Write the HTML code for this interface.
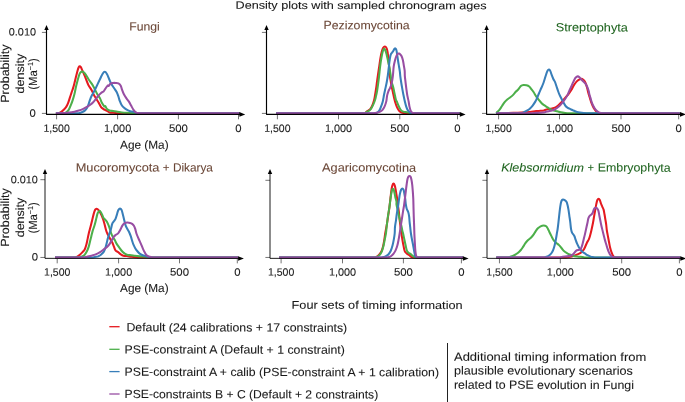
<!DOCTYPE html>
<html lang="en">
<head>
<meta charset="utf-8">
<title>Density plots with sampled chronogram ages</title>
<style>
html,body{margin:0;padding:0;background:#ffffff;}
body{width:685px;height:402px;overflow:hidden;}
svg{display:block;}
svg text{font-family:"Liberation Sans", Arial, Helvetica, sans-serif;text-rendering:geometricPrecision;stroke-width:0.08px;}
</style>
</head>
<body>
<svg width="685" height="402" viewBox="0 0 685 402">
<rect width="685" height="402" fill="#ffffff"/>
<line x1="41.9" y1="32.4" x2="46.5" y2="32.4" stroke="#000000" stroke-width="0.55"/>
<line x1="41.9" y1="113.4" x2="46.5" y2="113.4" stroke="#000000" stroke-width="0.55"/>
<line x1="56.6" y1="114.3" x2="56.6" y2="119.3" stroke="#000000" stroke-width="0.55"/>
<text x="56.6" y="131.9" transform="rotate(0.1 56.6 131.9)" font-size="10.6" fill="#181818" stroke="#181818" text-anchor="middle" textLength="26.3" lengthAdjust="spacingAndGlyphs">1,500</text>
<line x1="117.6" y1="114.3" x2="117.6" y2="119.3" stroke="#000000" stroke-width="0.55"/>
<text x="117.6" y="131.9" transform="rotate(0.1 117.6 131.9)" font-size="10.6" fill="#181818" stroke="#181818" text-anchor="middle" textLength="27.2" lengthAdjust="spacingAndGlyphs">1,000</text>
<line x1="178.4" y1="114.3" x2="178.4" y2="119.3" stroke="#000000" stroke-width="0.55"/>
<text x="178.4" y="131.9" transform="rotate(0.1 178.4 131.9)" font-size="10.6" fill="#181818" stroke="#181818" text-anchor="middle" textLength="19.0" lengthAdjust="spacingAndGlyphs">500</text>
<line x1="238.5" y1="114.3" x2="238.5" y2="119.3" stroke="#000000" stroke-width="0.55"/>
<text x="238.5" y="131.9" transform="rotate(0.1 238.5 131.9)" font-size="10.6" fill="#181818" stroke="#181818" text-anchor="middle" textLength="6.3" lengthAdjust="spacingAndGlyphs">0</text>
<path d="M55.90,113.15C56.85,113.15 57.84,113.15 58.76,113.15C59.73,112.90 60.57,112.29 61.39,111.72C62.33,111.07 63.21,110.34 64.01,109.53C64.82,108.72 65.58,107.86 66.20,106.90C66.91,105.80 67.47,104.60 67.96,103.39C68.65,101.68 69.13,99.89 69.71,98.14C70.29,96.39 70.88,94.63 71.46,92.88C72.04,91.13 72.67,89.40 73.21,87.63C73.70,86.02 74.11,84.40 74.53,82.77C75.57,78.69 76.49,74.58 77.59,70.51C77.90,69.38 78.19,68.22 78.73,67.18C78.94,66.78 79.33,66.31 79.78,66.31C80.23,66.31 80.58,66.80 80.83,67.18C81.33,67.94 81.60,68.81 81.97,69.64C83.01,71.97 84.06,74.29 85.04,76.64C86.25,79.54 87.18,82.57 88.54,85.40C89.23,86.83 90.38,88.00 91.17,89.38C92.14,91.08 92.86,92.92 93.80,94.64C94.61,96.13 95.55,97.55 96.42,99.01C97.30,100.47 98.19,101.92 99.05,103.39C99.39,103.97 99.66,104.58 100.00,105.15C100.53,106.04 100.95,107.03 101.68,107.77C102.42,108.52 103.40,109.00 104.31,109.53C105.15,110.02 106.07,110.37 106.93,110.84C107.85,111.34 108.65,112.10 109.64,112.42C110.76,112.78 111.97,112.74 113.14,112.85C114.60,112.98 116.06,113.09 117.52,113.15C118.35,113.15 119.19,113.15 120.02,113.15C159.88,113.15 199.74,113.15 239.60,113.15" fill="none" stroke="#e5191f" stroke-width="2.05" stroke-linejoin="round" stroke-linecap="butt"/>
<path d="M55.90,113.15C58.06,113.15 60.23,113.15 62.39,113.15C63.22,113.15 64.11,113.15 64.89,113.15C65.90,112.78 66.77,112.05 67.52,111.28C68.25,110.53 68.77,109.58 69.27,108.65C69.95,107.38 70.49,106.04 71.02,104.71C71.65,103.12 72.25,101.52 72.77,99.89C73.42,97.87 74.03,95.83 74.53,93.76C75.20,90.99 75.59,88.16 76.28,85.40C77.20,81.72 78.14,78.05 79.34,74.45C79.61,73.64 80.06,72.86 80.66,72.26C81.07,71.85 81.66,71.56 82.23,71.56C82.78,71.56 83.27,71.94 83.72,72.26C84.23,72.62 84.69,73.07 85.04,73.58C86.30,75.41 87.31,77.42 88.54,79.27C89.64,80.92 90.97,82.41 92.04,84.09C93.02,85.63 93.83,87.29 94.67,88.91C95.58,90.66 96.32,92.49 97.30,94.20C98.08,95.57 99.19,96.75 99.93,98.14C100.68,99.53 101.00,101.13 101.75,102.52C102.49,103.91 103.27,105.33 104.38,106.46C104.59,106.68 104.96,105.80 105.18,106.02C106.02,106.86 106.18,108.24 107.01,109.09C107.71,109.81 108.68,110.28 109.64,110.58C110.76,110.93 111.98,110.84 113.14,111.01C114.60,111.22 116.06,111.48 117.52,111.72C118.98,111.95 120.43,112.26 121.90,112.42C123.94,112.64 125.98,112.74 128.03,112.85C130.37,112.98 132.70,113.08 135.04,113.15C135.87,113.15 136.71,113.15 137.54,113.15C171.56,113.15 205.58,113.15 239.60,113.15" fill="none" stroke="#4caf4a" stroke-width="2.05" stroke-linejoin="round" stroke-linecap="butt"/>
<path d="M55.90,113.15C62.74,113.15 69.57,113.15 76.41,113.15C77.24,113.15 78.09,113.15 78.91,113.15C80.12,112.91 81.29,112.48 82.41,111.98C83.34,111.56 84.26,111.07 85.04,110.40C85.75,109.79 86.33,109.02 86.79,108.21C87.50,106.96 88.03,105.61 88.54,104.27C89.20,102.54 89.63,100.74 90.29,99.01C90.80,97.67 91.40,96.35 92.04,95.07C92.57,94.02 93.25,93.05 93.80,92.01C94.42,90.86 94.98,89.68 95.55,88.50C97.03,85.43 98.45,82.34 99.93,79.27C100.78,77.51 101.49,75.66 102.55,74.01C103.11,73.14 103.71,71.82 104.74,71.82C105.77,71.82 106.40,73.12 106.93,74.01C107.91,75.65 108.43,77.52 109.20,79.27C109.91,80.88 110.54,82.54 111.39,84.09C112.15,85.47 113.14,86.72 114.01,88.03C114.89,89.34 115.91,90.57 116.64,91.97C117.38,93.37 117.87,94.89 118.39,96.39C118.89,97.83 119.18,99.34 119.71,100.77C120.21,102.12 120.70,103.49 121.46,104.71C122.17,105.85 123.10,106.86 124.09,107.77C125.01,108.62 126.06,109.34 127.15,109.96C128.12,110.51 129.15,110.96 130.22,111.28C131.21,111.58 132.27,111.58 133.28,111.80C133.88,111.93 134.46,112.13 135.04,112.33C135.78,112.58 136.46,113.02 137.23,113.15C138.05,113.15 138.90,113.15 139.73,113.15C173.02,113.15 206.31,113.15 239.60,113.15" fill="none" stroke="#387eb9" stroke-width="2.05" stroke-linejoin="round" stroke-linecap="butt"/>
<path d="M55.90,113.15C57.48,113.15 59.06,113.15 60.64,113.15C61.47,113.14 62.31,113.08 63.14,113.03C65.18,112.90 67.23,112.82 69.27,112.59C71.04,112.39 72.79,112.08 74.53,111.72C76.01,111.41 77.48,111.05 78.91,110.58C80.40,110.09 81.86,109.48 83.28,108.82C84.49,108.26 85.64,107.57 86.79,106.90C87.98,106.20 89.17,105.51 90.29,104.71C91.22,104.05 92.11,103.33 92.92,102.52C93.87,101.57 94.71,100.50 95.55,99.45C96.46,98.31 97.23,97.06 98.18,95.95C98.98,95.01 99.88,94.14 100.80,93.32C101.37,92.81 102.00,92.39 102.63,91.97C102.88,91.80 103.24,91.80 103.43,91.57C104.13,90.75 104.63,89.78 105.26,88.91C106.11,87.73 106.79,86.37 107.88,85.40C108.12,85.19 108.43,86.05 108.69,85.88C109.49,85.35 109.71,84.18 110.51,83.65C111.27,83.15 112.24,83.07 113.14,82.95C114.01,82.83 114.90,82.88 115.77,82.95C116.65,83.02 117.60,82.99 118.39,83.39C119.27,83.84 120.08,84.55 120.58,85.40C121.29,86.61 121.42,88.07 121.90,89.38C122.44,90.86 122.95,92.35 123.65,93.76C124.41,95.28 125.33,96.72 126.28,98.14C127.09,99.35 128.12,100.41 128.91,101.64C129.72,102.90 130.36,104.27 131.09,105.58C131.82,106.90 132.47,108.26 133.28,109.53C133.79,110.32 134.36,111.08 135.04,111.72C135.54,112.20 136.13,112.63 136.79,112.85C137.63,113.12 138.54,113.10 139.42,113.15C140.25,113.15 141.09,113.15 141.92,113.15C174.48,113.15 207.04,113.15 239.60,113.15" fill="none" stroke="#984ea3" stroke-width="2.05" stroke-linejoin="round" stroke-linecap="butt"/>
<path d="M46.5,28.0 V114.3 H240.3" fill="none" stroke="#000000" stroke-width="1.15" stroke-linejoin="round"/>
<path d="M46.5,24.9 l2.2,5.0 h-4.4 z" fill="#000"/>
<path d="M245.2,114.4 l-5.8,-2.3 v4.6 z" fill="#000"/>
<line x1="261.9" y1="32.4" x2="266.5" y2="32.4" stroke="#000000" stroke-width="0.55"/>
<line x1="261.9" y1="113.4" x2="266.5" y2="113.4" stroke="#000000" stroke-width="0.55"/>
<line x1="277.4" y1="114.3" x2="277.4" y2="119.3" stroke="#000000" stroke-width="0.55"/>
<text x="277.4" y="131.9" transform="rotate(0.1 277.4 131.9)" font-size="10.6" fill="#181818" stroke="#181818" text-anchor="middle" textLength="26.3" lengthAdjust="spacingAndGlyphs">1,500</text>
<line x1="338.5" y1="114.3" x2="338.5" y2="119.3" stroke="#000000" stroke-width="0.55"/>
<text x="338.5" y="131.9" transform="rotate(0.1 338.5 131.9)" font-size="10.6" fill="#181818" stroke="#181818" text-anchor="middle" textLength="27.2" lengthAdjust="spacingAndGlyphs">1,000</text>
<line x1="399.8" y1="114.3" x2="399.8" y2="119.3" stroke="#000000" stroke-width="0.55"/>
<text x="399.8" y="131.9" transform="rotate(0.1 399.8 131.9)" font-size="10.6" fill="#181818" stroke="#181818" text-anchor="middle" textLength="19.0" lengthAdjust="spacingAndGlyphs">500</text>
<line x1="457.5" y1="114.3" x2="457.5" y2="119.3" stroke="#000000" stroke-width="0.55"/>
<text x="457.5" y="131.9" transform="rotate(0.1 457.5 131.9)" font-size="10.6" fill="#181818" stroke="#181818" text-anchor="middle" textLength="6.3" lengthAdjust="spacingAndGlyphs">0</text>
<path d="M276.20,113.15C304.89,113.15 333.59,113.15 362.28,113.15C363.11,113.15 363.98,113.15 364.78,113.15C365.47,112.95 365.95,112.32 366.53,111.90C367.12,111.47 367.70,111.02 368.28,110.58C368.87,110.14 369.58,109.84 370.04,109.27C370.91,108.21 371.66,107.02 372.22,105.77C372.98,104.08 373.49,102.29 373.98,100.51C374.36,99.12 374.60,97.70 374.85,96.28C375.27,93.95 375.65,91.61 375.99,89.27C376.38,86.65 376.68,84.02 377.04,81.39C377.32,79.35 377.62,77.30 377.92,75.26C378.35,72.27 378.79,69.27 379.23,66.28C379.66,63.36 380.04,60.43 380.55,57.52C380.91,55.46 381.31,53.41 381.86,51.39C382.19,50.18 382.50,48.93 383.17,47.88C383.56,47.26 384.20,46.48 384.93,46.57C385.75,46.67 386.36,47.56 386.68,48.32C387.32,49.83 387.47,51.52 387.73,53.14C388.05,55.17 388.21,57.23 388.43,59.27C388.65,61.31 388.84,63.36 389.04,65.40C389.22,67.15 389.45,68.90 389.57,70.66C389.68,72.19 389.58,73.73 389.74,75.26C389.93,77.02 390.33,78.76 390.62,80.51C390.91,82.26 391.15,84.02 391.49,85.77C391.88,87.82 392.37,89.86 392.81,91.90C393.25,93.94 393.65,95.99 394.12,98.03C394.38,99.16 394.66,100.28 395.00,101.39C395.54,103.15 396.02,104.94 396.75,106.64C397.34,108.02 398.00,109.41 398.94,110.58C399.64,111.44 400.58,112.11 401.57,112.60C402.37,112.99 403.31,113.05 404.20,113.15C405.03,113.15 405.87,113.15 406.70,113.15C424.37,113.15 442.03,113.15 459.70,113.15" fill="none" stroke="#e5191f" stroke-width="2.05" stroke-linejoin="round" stroke-linecap="butt"/>
<path d="M276.20,113.15C305.05,113.15 333.91,113.15 362.76,113.15C363.59,113.15 364.47,113.15 365.26,113.15C365.83,112.96 366.05,112.21 366.57,111.90C367.24,111.49 368.12,111.47 368.76,111.02C369.61,110.43 370.35,109.67 370.95,108.83C371.82,107.61 372.50,106.25 373.14,104.89C373.81,103.47 374.38,102.00 374.89,100.51C375.26,99.41 375.51,98.28 375.77,97.15C376.24,95.11 376.72,93.08 377.08,91.02C377.54,88.41 377.86,85.77 378.22,83.14C378.53,80.81 378.82,78.47 379.09,76.13C379.47,72.85 379.73,69.56 380.15,66.28C380.52,63.35 380.95,60.43 381.46,57.52C381.82,55.46 382.17,53.39 382.77,51.39C383.05,50.45 383.16,49.07 384.09,48.76C384.78,48.53 385.11,49.84 385.40,50.51C386.00,51.91 386.35,53.41 386.72,54.89C387.23,56.92 387.59,58.98 388.03,61.02C388.47,63.06 388.96,65.10 389.34,67.15C389.84,69.84 390.24,72.55 390.66,75.26C390.97,77.30 391.10,79.37 391.53,81.39C391.97,83.47 392.76,85.46 393.28,87.52C393.79,89.55 394.16,91.61 394.60,93.65C395.04,95.69 395.34,97.77 395.91,99.78C396.08,100.37 396.54,100.83 396.79,101.39C397.42,102.83 397.90,104.33 398.54,105.77C399.07,106.96 399.55,108.20 400.29,109.27C400.88,110.12 401.57,110.97 402.48,111.46C403.40,111.95 404.53,111.87 405.55,112.07C406.72,112.30 407.88,112.56 409.05,112.77C409.92,112.92 410.80,113.08 411.68,113.15C412.51,113.15 413.35,113.15 414.18,113.15C429.35,113.15 444.53,113.15 459.70,113.15" fill="none" stroke="#4caf4a" stroke-width="2.05" stroke-linejoin="round" stroke-linecap="butt"/>
<path d="M276.20,113.15C308.26,113.15 340.33,113.15 372.39,113.15C373.22,113.15 374.06,113.15 374.89,113.15C375.64,113.06 376.43,112.98 377.08,112.60C377.94,112.10 378.72,111.41 379.27,110.58C380.06,109.38 380.51,107.98 381.02,106.64C381.68,104.92 382.32,103.18 382.77,101.39C383.34,99.13 383.63,96.81 384.09,94.53C384.50,92.48 384.96,90.44 385.40,88.39C385.84,86.35 386.34,84.31 386.72,82.26C387.15,79.94 387.53,77.60 387.85,75.26C388.26,72.27 388.55,69.27 388.91,66.28C389.19,63.94 389.42,61.60 389.78,59.27C390.01,57.80 390.19,56.30 390.66,54.89C390.93,54.08 391.50,53.41 391.97,52.70C392.37,52.09 392.88,51.56 393.28,50.95C393.75,50.24 394.03,49.40 394.60,48.76C394.80,48.53 395.23,48.32 395.47,48.50C395.95,48.86 396.19,49.49 396.35,50.07C396.78,51.64 396.97,53.28 397.23,54.89C397.56,56.93 397.79,58.98 398.10,61.02C398.37,62.78 398.69,64.53 398.98,66.28C399.27,68.03 399.62,69.77 399.85,71.53C400.05,73.06 400.10,74.60 400.29,76.13C400.54,78.18 400.85,80.22 401.17,82.26C401.49,84.31 401.86,86.35 402.22,88.39C402.59,90.44 402.95,92.49 403.36,94.53C403.82,96.82 404.31,99.11 404.85,101.39C405.27,103.15 405.68,104.92 406.25,106.64C406.65,107.85 407.07,109.07 407.74,110.15C408.17,110.85 408.88,111.34 409.49,111.90C409.90,112.28 410.27,112.78 410.80,112.95C411.59,113.15 412.46,113.15 413.30,113.15C428.77,113.15 444.23,113.15 459.70,113.15" fill="none" stroke="#387eb9" stroke-width="2.05" stroke-linejoin="round" stroke-linecap="butt"/>
<path d="M276.20,113.15C307.68,113.15 339.16,113.15 370.64,113.15C371.47,113.15 372.31,113.15 373.14,113.15C374.31,113.08 375.49,112.99 376.64,112.77C377.68,112.57 378.74,112.34 379.71,111.90C380.67,111.46 381.63,110.93 382.34,110.15C383.27,109.13 383.96,107.90 384.53,106.64C385.29,104.96 385.86,103.19 386.28,101.39C386.74,99.43 386.73,97.37 387.15,95.40C387.47,93.91 387.92,92.44 388.47,91.02C388.94,89.80 389.72,88.73 390.22,87.52C390.81,86.09 391.36,84.64 391.71,83.14C392.24,80.83 392.57,78.48 392.85,76.13C393.24,72.86 393.27,69.55 393.72,66.28C394.00,64.21 394.51,62.17 395.04,60.15C395.39,58.81 395.81,57.48 396.35,56.20C396.68,55.42 397.06,54.61 397.66,54.01C397.99,53.68 398.52,53.50 398.98,53.58C399.50,53.67 399.92,54.08 400.29,54.45C400.81,54.97 401.30,55.54 401.61,56.20C402.19,57.46 402.60,58.80 402.92,60.15C403.33,61.88 403.51,63.65 403.80,65.40C404.09,67.15 404.50,68.89 404.67,70.66C404.85,72.48 404.71,74.31 404.85,76.13C405.01,78.18 405.31,80.22 405.55,82.26C405.83,84.60 406.11,86.94 406.42,89.27C406.69,91.32 406.93,93.37 407.30,95.40C407.66,97.41 408.22,99.38 408.61,101.39C408.95,103.13 409.11,104.91 409.49,106.64C409.78,107.98 410.08,109.33 410.63,110.58C410.97,111.35 411.43,112.12 412.12,112.60C412.74,113.03 413.56,113.06 414.31,113.15C415.14,113.15 415.98,113.15 416.81,113.15C431.11,113.15 445.40,113.15 459.70,113.15" fill="none" stroke="#984ea3" stroke-width="2.05" stroke-linejoin="round" stroke-linecap="butt"/>
<path d="M266.5,28.0 V114.3 H460.4" fill="none" stroke="#000000" stroke-width="1.15" stroke-linejoin="round"/>
<path d="M266.5,24.9 l2.2,5.0 h-4.4 z" fill="#000"/>
<path d="M465.6,114.4 l-5.8,-2.3 v4.6 z" fill="#000"/>
<line x1="482.0" y1="32.4" x2="486.6" y2="32.4" stroke="#000000" stroke-width="0.55"/>
<line x1="482.0" y1="113.4" x2="486.6" y2="113.4" stroke="#000000" stroke-width="0.55"/>
<line x1="498.6" y1="114.3" x2="498.6" y2="119.3" stroke="#000000" stroke-width="0.55"/>
<text x="498.6" y="131.9" transform="rotate(0.1 498.6 131.9)" font-size="10.6" fill="#181818" stroke="#181818" text-anchor="middle" textLength="26.3" lengthAdjust="spacingAndGlyphs">1,500</text>
<line x1="559.5" y1="114.3" x2="559.5" y2="119.3" stroke="#000000" stroke-width="0.55"/>
<text x="559.5" y="131.9" transform="rotate(0.1 559.5 131.9)" font-size="10.6" fill="#181818" stroke="#181818" text-anchor="middle" textLength="27.2" lengthAdjust="spacingAndGlyphs">1,000</text>
<line x1="621.0" y1="114.3" x2="621.0" y2="119.3" stroke="#000000" stroke-width="0.55"/>
<text x="621.0" y="131.9" transform="rotate(0.1 621.0 131.9)" font-size="10.6" fill="#181818" stroke="#181818" text-anchor="middle" textLength="19.0" lengthAdjust="spacingAndGlyphs">500</text>
<line x1="678.7" y1="114.3" x2="678.7" y2="119.3" stroke="#000000" stroke-width="0.55"/>
<text x="678.7" y="131.9" transform="rotate(0.1 678.7 131.9)" font-size="10.6" fill="#181818" stroke="#181818" text-anchor="middle" textLength="6.3" lengthAdjust="spacingAndGlyphs">0</text>
<path d="M496.30,113.15C499.41,113.15 502.53,113.15 505.64,113.15C506.47,113.14 507.31,113.06 508.14,113.03C512.52,112.87 516.90,112.80 521.28,112.59C524.20,112.45 527.13,112.27 530.04,111.98C532.09,111.77 534.12,111.32 536.17,111.10C537.62,110.94 539.09,110.97 540.55,110.84C541.72,110.74 542.90,110.63 544.05,110.40C544.39,110.33 544.67,110.06 545.00,109.96C546.15,109.62 547.32,109.34 548.50,109.09C549.66,108.84 550.86,108.76 552.01,108.47C553.20,108.17 554.40,107.86 555.51,107.34C556.46,106.89 557.33,106.25 558.14,105.58C559.09,104.79 559.93,103.87 560.77,102.96C561.68,101.97 562.52,100.91 563.39,99.89C564.27,98.87 565.14,97.84 566.02,96.82C566.90,95.80 567.83,94.83 568.65,93.76C569.59,92.54 570.48,91.27 571.28,89.96C572.23,88.40 572.93,86.70 573.91,85.15C574.69,83.92 575.54,82.72 576.53,81.64C577.16,80.95 577.94,80.41 578.72,79.89C579.26,79.53 579.84,79.20 580.47,79.01C581.03,78.84 581.68,78.63 582.23,78.84C582.95,79.11 583.49,79.74 583.98,80.33C584.52,80.98 584.95,81.74 585.29,82.52C585.91,83.94 586.43,85.41 586.87,86.90C587.46,88.92 587.81,91.00 588.36,93.03C588.75,94.45 589.24,95.85 589.67,97.26C590.12,98.72 590.49,100.20 590.99,101.64C591.51,103.12 592.07,104.60 592.74,106.02C593.24,107.09 593.82,108.12 594.49,109.09C595.14,110.03 595.80,111.00 596.68,111.72C597.44,112.34 598.37,112.77 599.31,113.03C600.11,113.15 600.98,113.15 601.81,113.15C627.77,113.15 653.74,113.15 679.70,113.15" fill="none" stroke="#e5191f" stroke-width="2.05" stroke-linejoin="round" stroke-linecap="butt"/>
<path d="M496.30,113.15C496.45,112.96 496.58,112.76 496.75,112.59C497.61,111.70 498.61,110.93 499.38,109.96C500.37,108.73 501.13,107.33 502.01,106.02C502.89,104.71 503.65,103.31 504.64,102.08C505.41,101.11 506.32,100.25 507.26,99.45C508.22,98.64 509.34,98.04 510.33,97.26C511.39,96.43 512.44,95.59 513.39,94.64C514.34,93.69 515.10,92.55 516.02,91.57C516.70,90.84 517.56,90.28 518.21,89.53C519.17,88.43 519.74,86.98 520.84,86.02C521.55,85.40 522.53,85.09 523.47,84.97C524.49,84.84 525.54,85.06 526.53,85.32C527.45,85.56 528.41,85.87 529.16,86.46C530.06,87.16 530.64,88.19 531.35,89.09C532.10,90.05 532.87,90.99 533.54,92.01C534.48,93.43 535.22,94.97 536.17,96.39C536.98,97.60 537.89,98.75 538.80,99.89C539.64,100.94 540.47,102.01 541.42,102.96C542.23,103.77 543.12,104.49 544.05,105.15C545.17,105.95 546.39,106.60 547.55,107.34C548.46,107.92 549.30,108.61 550.26,109.09C551.38,109.64 552.57,110.03 553.76,110.40C554.91,110.76 556.10,110.96 557.26,111.28C558.44,111.60 559.58,112.07 560.77,112.33C562.21,112.65 563.68,112.86 565.15,113.03C565.98,113.13 566.82,113.15 567.65,113.15C605.00,113.15 642.35,113.15 679.70,113.15" fill="none" stroke="#4caf4a" stroke-width="2.05" stroke-linejoin="round" stroke-linecap="butt"/>
<path d="M496.30,113.15C503.79,113.15 511.29,113.15 518.78,113.15C519.61,113.15 520.47,113.15 521.28,113.15C522.51,112.86 523.63,112.24 524.78,111.72C525.67,111.32 526.58,110.92 527.41,110.40C528.34,109.83 529.24,109.21 530.04,108.47C531.00,107.59 531.87,106.61 532.66,105.58C533.62,104.33 534.49,103.00 535.29,101.64C535.95,100.52 536.51,99.33 537.04,98.14C537.68,96.70 538.19,95.21 538.80,93.76C539.65,91.75 540.56,89.77 541.42,87.77C542.17,86.03 542.97,84.31 543.61,82.52C544.43,80.21 545.03,77.83 545.80,75.51C546.34,73.89 546.73,72.19 547.55,70.69C547.85,70.14 548.42,69.45 549.04,69.55C549.72,69.66 550.05,70.52 550.36,71.13C550.91,72.24 551.13,73.48 551.57,74.64C552.12,76.11 552.65,77.59 553.32,79.01C553.82,80.08 554.60,81.00 555.07,82.08C555.63,83.35 555.95,84.71 556.39,86.02C556.97,87.77 557.52,89.54 558.14,91.28C558.54,92.41 558.95,93.54 559.45,94.64C560.12,96.12 560.88,97.57 561.64,99.01C562.34,100.34 563.09,101.65 563.83,102.96C564.41,103.98 564.84,105.11 565.58,106.02C566.17,106.74 566.98,107.27 567.77,107.77C568.60,108.30 569.52,108.65 570.40,109.09C571.28,109.53 572.14,109.99 573.03,110.40C573.90,110.80 574.76,111.21 575.66,111.54C576.52,111.85 577.39,112.14 578.28,112.33C579.44,112.58 580.61,112.73 581.79,112.85C583.25,113.00 584.71,113.09 586.17,113.15C587.00,113.15 587.84,113.15 588.67,113.15C619.01,113.15 649.36,113.15 679.70,113.15" fill="none" stroke="#387eb9" stroke-width="2.05" stroke-linejoin="round" stroke-linecap="butt"/>
<path d="M496.30,113.15C508.17,113.15 520.05,113.15 531.92,113.15C532.75,113.15 533.59,113.08 534.42,113.03C537.34,112.86 540.26,112.74 543.18,112.50C543.80,112.45 544.40,112.29 545.00,112.15C546.17,111.88 547.33,111.57 548.50,111.28C549.67,110.99 550.85,110.73 552.01,110.40C552.90,110.15 553.81,109.94 554.64,109.53C555.58,109.06 556.42,108.40 557.26,107.77C558.17,107.08 559.08,106.39 559.89,105.58C560.84,104.63 561.68,103.57 562.52,102.52C563.43,101.38 564.34,100.23 565.15,99.01C566.09,97.60 567.00,96.15 567.77,94.64C568.32,93.57 568.62,92.39 569.09,91.28C569.79,89.66 570.55,88.07 571.28,86.46C572.01,84.85 572.71,83.23 573.47,81.64C574.03,80.46 574.52,79.24 575.22,78.14C575.55,77.62 576.01,77.16 576.53,76.82C576.92,76.56 577.39,76.34 577.85,76.39C578.34,76.44 578.78,76.77 579.16,77.09C579.82,77.65 580.31,78.38 580.91,79.01C581.62,79.76 582.37,80.47 583.10,81.20C583.83,81.93 584.67,82.56 585.29,83.39C586.00,84.33 586.56,85.38 587.04,86.46C587.74,88.02 588.31,89.64 588.80,91.28C589.04,92.08 589.02,92.95 589.23,93.76C589.61,95.24 590.11,96.68 590.55,98.14C590.99,99.60 591.33,101.09 591.86,102.52C592.36,103.87 592.94,105.19 593.61,106.46C594.25,107.68 594.91,108.91 595.80,109.96C596.54,110.83 597.44,111.57 598.43,112.15C599.23,112.62 600.15,112.85 601.06,113.03C601.88,113.15 602.73,113.15 603.56,113.15C628.94,113.15 654.32,113.15 679.70,113.15" fill="none" stroke="#984ea3" stroke-width="2.05" stroke-linejoin="round" stroke-linecap="butt"/>
<path d="M486.6,28.0 V114.3 H680.4" fill="none" stroke="#000000" stroke-width="1.15" stroke-linejoin="round"/>
<path d="M486.6,24.9 l2.2,5.0 h-4.4 z" fill="#000"/>
<path d="M685.8,114.4 l-5.8,-2.3 v4.6 z" fill="#000"/>
<line x1="40.4" y1="179.7" x2="45.0" y2="179.7" stroke="#000000" stroke-width="0.55"/>
<line x1="40.4" y1="257.45" x2="45.0" y2="257.45" stroke="#000000" stroke-width="0.55"/>
<line x1="57.2" y1="258.35" x2="57.2" y2="263.35" stroke="#000000" stroke-width="0.55"/>
<text x="57.2" y="275.65" transform="rotate(0.1 57.2 275.65)" font-size="10.6" fill="#181818" stroke="#181818" text-anchor="middle" textLength="26.3" lengthAdjust="spacingAndGlyphs">1,500</text>
<line x1="118.6" y1="258.35" x2="118.6" y2="263.35" stroke="#000000" stroke-width="0.55"/>
<text x="118.6" y="275.65" transform="rotate(0.1 118.6 275.65)" font-size="10.6" fill="#181818" stroke="#181818" text-anchor="middle" textLength="27.2" lengthAdjust="spacingAndGlyphs">1,000</text>
<line x1="179.5" y1="258.35" x2="179.5" y2="263.35" stroke="#000000" stroke-width="0.55"/>
<text x="179.5" y="275.65" transform="rotate(0.1 179.5 275.65)" font-size="10.6" fill="#181818" stroke="#181818" text-anchor="middle" textLength="19.0" lengthAdjust="spacingAndGlyphs">500</text>
<line x1="237.3" y1="258.35" x2="237.3" y2="263.35" stroke="#000000" stroke-width="0.55"/>
<text x="237.3" y="275.65" transform="rotate(0.1 237.3 275.65)" font-size="10.6" fill="#181818" stroke="#181818" text-anchor="middle" textLength="6.3" lengthAdjust="spacingAndGlyphs">0</text>
<path d="M55.00,257.45C61.59,257.45 68.18,257.45 74.76,257.45C75.63,257.42 76.49,257.11 77.26,256.71C78.22,256.21 79.07,255.49 79.89,254.78C80.83,253.97 81.68,253.06 82.52,252.15C83.29,251.31 84.20,250.55 84.71,249.53C85.54,247.88 85.98,246.05 86.46,244.27C87.00,242.25 87.33,240.18 87.77,238.14C88.21,236.10 88.60,234.04 89.09,232.01C89.48,230.38 89.98,228.77 90.40,227.15C91.00,224.82 91.57,222.48 92.15,220.15C92.74,217.81 93.23,215.45 93.91,213.14C94.26,211.94 94.58,210.71 95.22,209.64C95.49,209.19 96.01,208.80 96.53,208.76C97.03,208.73 97.47,209.14 97.85,209.46C98.51,210.02 99.13,210.66 99.60,211.39C100.31,212.49 100.82,213.70 101.35,214.89C101.99,216.33 102.58,217.79 103.10,219.27C103.60,220.71 104.02,222.18 104.42,223.65C104.90,225.39 105.24,227.17 105.73,228.91C106.11,230.25 106.51,231.59 107.04,232.88C107.54,234.09 108.18,235.24 108.80,236.39C109.35,237.43 109.97,238.43 110.55,239.45C111.13,240.47 111.80,241.45 112.30,242.52C112.97,243.94 113.46,245.44 114.05,246.90C114.53,248.07 114.73,249.40 115.51,250.40C116.16,251.23 117.30,251.52 118.14,252.15C119.05,252.83 119.82,253.71 120.77,254.34C121.58,254.88 122.45,255.39 123.39,255.66C124.52,255.98 125.73,255.93 126.90,256.09C128.36,256.28 129.82,256.53 131.28,256.71C132.74,256.89 134.20,256.99 135.66,257.15C136.49,257.24 137.32,257.45 138.16,257.45C171.51,257.45 204.85,257.45 238.20,257.45" fill="none" stroke="#e5191f" stroke-width="2.05" stroke-linejoin="round" stroke-linecap="butt"/>
<path d="M55.00,257.45C63.05,257.45 71.10,257.45 79.14,257.45C80.01,257.43 80.84,257.06 81.64,256.71C82.56,256.31 83.57,255.94 84.27,255.22C85.37,254.09 86.16,252.68 86.90,251.28C87.63,249.89 88.17,248.40 88.65,246.90C89.20,245.18 89.52,243.39 89.96,241.64C90.40,239.89 90.84,238.14 91.28,236.39C91.72,234.64 92.08,232.86 92.59,231.13C93.25,228.91 94.14,226.76 94.78,224.53C95.45,222.22 95.93,219.85 96.53,217.52C96.95,215.91 97.14,214.21 97.85,212.70C98.20,211.95 98.78,211.07 99.60,210.95C100.21,210.86 100.57,211.75 100.91,212.26C101.45,213.08 101.82,214.00 102.23,214.89C102.70,215.90 102.94,217.02 103.54,217.96C103.98,218.66 104.74,219.09 105.29,219.71C105.91,220.41 106.58,221.09 107.04,221.90C107.75,223.15 108.28,224.50 108.80,225.84C109.30,227.13 109.70,228.46 110.11,229.78C110.43,230.81 110.61,231.87 110.99,232.88C111.49,234.23 112.07,235.55 112.74,236.82C113.38,238.04 114.26,239.12 114.93,240.33C115.48,241.32 115.80,242.42 116.39,243.39C117.31,244.91 118.39,246.34 119.45,247.77C120.44,249.11 121.39,250.50 122.52,251.72C123.30,252.56 124.18,253.31 125.15,253.91C125.95,254.40 126.85,254.76 127.77,254.96C128.92,255.21 130.12,255.08 131.28,255.22C132.46,255.37 133.61,255.68 134.78,255.83C136.53,256.06 138.28,256.21 140.04,256.36C141.79,256.51 143.54,256.55 145.29,256.71C146.46,256.82 147.63,257.01 148.80,257.15C149.63,257.25 150.46,257.45 151.30,257.45C180.27,257.45 209.23,257.45 238.20,257.45" fill="none" stroke="#4caf4a" stroke-width="2.05" stroke-linejoin="round" stroke-linecap="butt"/>
<path d="M55.00,257.45C67.43,257.45 79.85,257.45 92.28,257.45C93.13,257.44 93.95,257.12 94.78,256.97C95.95,256.76 97.16,256.76 98.28,256.36C99.24,256.02 100.11,255.42 100.91,254.78C101.88,254.01 102.85,253.18 103.54,252.15C104.34,250.95 104.81,249.57 105.29,248.21C105.84,246.64 106.19,245.00 106.61,243.39C107.07,241.64 107.42,239.87 107.92,238.14C108.44,236.37 109.09,234.63 109.67,232.88C110.11,231.56 110.61,230.25 110.99,228.91C111.49,227.17 111.65,225.33 112.30,223.65C112.68,222.67 113.47,221.90 114.05,221.02C114.54,220.29 115.15,219.63 115.51,218.83C116.08,217.57 116.40,216.21 116.82,214.89C117.28,213.44 117.54,211.91 118.14,210.51C118.43,209.84 118.90,209.24 119.45,208.76C119.67,208.56 120.07,208.43 120.33,208.58C120.90,208.92 121.39,209.46 121.64,210.07C122.28,211.61 122.54,213.28 122.96,214.89C123.42,216.64 123.83,218.40 124.27,220.15C124.71,221.90 124.98,223.70 125.58,225.40C126.01,226.64 126.73,227.75 127.34,228.91C127.90,229.96 128.59,230.94 129.09,232.01C129.76,233.43 130.32,234.91 130.84,236.39C131.34,237.83 131.69,239.32 132.15,240.77C132.57,242.09 132.94,243.43 133.47,244.71C133.97,245.92 134.55,247.09 135.22,248.21C135.87,249.29 136.60,250.32 137.41,251.28C138.21,252.23 139.05,253.17 140.04,253.91C140.82,254.50 141.75,254.87 142.66,255.22C143.65,255.60 144.71,255.80 145.73,256.09C146.46,256.30 147.19,256.50 147.92,256.71C148.75,256.95 149.55,257.44 150.42,257.45C179.68,257.45 208.94,257.45 238.20,257.45" fill="none" stroke="#387eb9" stroke-width="2.05" stroke-linejoin="round" stroke-linecap="butt"/>
<path d="M55.00,257.45C64.80,257.45 74.60,257.45 84.40,257.45C85.27,257.43 86.06,256.93 86.90,256.71C88.35,256.33 89.83,256.05 91.28,255.66C92.75,255.26 94.24,254.91 95.66,254.34C97.18,253.73 98.65,253.00 100.04,252.15C101.28,251.39 102.37,250.40 103.54,249.53C104.71,248.65 105.97,247.89 107.04,246.90C108.03,245.98 108.91,244.94 109.67,243.83C110.52,242.59 111.10,241.18 111.86,239.89C112.56,238.70 113.22,237.49 114.05,236.39C114.45,235.87 114.99,235.46 115.51,235.07C116.35,234.44 117.43,234.10 118.14,233.32C119.07,232.31 119.66,231.02 120.33,229.82C121.13,228.38 121.61,226.77 122.52,225.40C123.09,224.54 123.82,223.73 124.71,223.21C125.49,222.76 126.44,222.64 127.34,222.60C128.22,222.56 129.11,222.73 129.96,222.95C130.72,223.14 131.52,223.36 132.15,223.82C132.87,224.35 133.45,225.08 133.91,225.84C134.48,226.79 134.87,227.85 135.22,228.91C135.75,230.50 135.98,232.18 136.53,233.76C137.15,235.55 137.96,237.27 138.72,239.01C139.42,240.63 140.21,242.21 140.91,243.83C141.67,245.57 142.32,247.36 143.10,249.09C143.64,250.28 144.20,251.46 144.85,252.59C145.37,253.51 145.86,254.48 146.61,255.22C147.21,255.82 148.01,256.21 148.80,256.53C149.63,256.86 150.54,256.99 151.42,257.15C152.25,257.30 153.08,257.45 153.92,257.45C182.01,257.45 210.11,257.45 238.20,257.45" fill="none" stroke="#984ea3" stroke-width="2.05" stroke-linejoin="round" stroke-linecap="butt"/>
<path d="M45.0,172.2 V258.35 H238.9" fill="none" stroke="#000000" stroke-width="0.9" stroke-linejoin="round"/>
<path d="M45.0,169.1 l2.2,5.0 h-4.4 z" fill="#000"/>
<path d="M243.9,258.45 l-5.8,-2.3 v4.6 z" fill="#000"/>
<line x1="265.4" y1="180.3" x2="270.0" y2="180.3" stroke="#000000" stroke-width="0.55"/>
<line x1="265.4" y1="257.45" x2="270.0" y2="257.45" stroke="#000000" stroke-width="0.55"/>
<line x1="281.1" y1="258.35" x2="281.1" y2="263.35" stroke="#000000" stroke-width="0.55"/>
<text x="281.1" y="275.65" transform="rotate(0.1 281.1 275.65)" font-size="10.6" fill="#181818" stroke="#181818" text-anchor="middle" textLength="26.3" lengthAdjust="spacingAndGlyphs">1,500</text>
<line x1="342.5" y1="258.35" x2="342.5" y2="263.35" stroke="#000000" stroke-width="0.55"/>
<text x="342.5" y="275.65" transform="rotate(0.1 342.5 275.65)" font-size="10.6" fill="#181818" stroke="#181818" text-anchor="middle" textLength="27.2" lengthAdjust="spacingAndGlyphs">1,000</text>
<line x1="403.4" y1="258.35" x2="403.4" y2="263.35" stroke="#000000" stroke-width="0.55"/>
<text x="403.4" y="275.65" transform="rotate(0.1 403.4 275.65)" font-size="10.6" fill="#181818" stroke="#181818" text-anchor="middle" textLength="19.0" lengthAdjust="spacingAndGlyphs">500</text>
<line x1="461.4" y1="258.35" x2="461.4" y2="263.35" stroke="#000000" stroke-width="0.55"/>
<text x="461.4" y="275.65" transform="rotate(0.1 461.4 275.65)" font-size="10.6" fill="#181818" stroke="#181818" text-anchor="middle" textLength="6.3" lengthAdjust="spacingAndGlyphs">0</text>
<path d="M279.20,257.45C311.08,257.45 342.97,257.45 374.85,257.45C375.75,257.44 376.60,256.95 377.35,256.47C378.04,256.02 378.58,255.36 379.10,254.72C379.90,253.75 380.75,252.79 381.29,251.65C382.08,249.98 382.60,248.18 383.05,246.39C383.63,244.09 383.97,241.73 384.36,239.39C384.70,237.35 384.90,235.30 385.24,233.26C385.78,230.05 386.45,226.86 386.99,223.65C387.48,220.74 387.87,217.81 388.30,214.89C388.69,212.26 389.10,209.64 389.44,207.01C389.89,203.44 390.25,199.86 390.67,196.28C390.95,193.94 391.17,191.60 391.54,189.27C391.75,187.94 391.97,186.60 392.42,185.33C392.65,184.67 392.86,183.58 393.56,183.58C394.25,183.58 394.46,184.68 394.69,185.33C395.14,186.60 395.32,187.95 395.57,189.27C395.90,191.02 396.16,192.78 396.45,194.53C396.74,196.28 397.08,198.02 397.32,199.78C397.57,201.60 397.71,203.44 397.94,205.26C398.20,207.31 398.56,209.34 398.81,211.39C399.06,213.43 399.20,215.48 399.42,217.52C399.64,219.57 399.87,221.61 400.13,223.65C400.39,225.70 400.72,227.74 401.00,229.78C401.16,230.94 401.28,232.10 401.44,233.26C401.72,235.31 401.98,237.35 402.32,239.39C402.71,241.73 403.13,244.07 403.63,246.39C404.01,248.16 404.17,250.01 404.94,251.65C405.38,252.58 406.32,253.20 407.13,253.84C407.79,254.37 408.64,254.64 409.32,255.15C410.10,255.73 410.64,256.65 411.51,257.08C412.27,257.45 413.17,257.44 414.01,257.45C430.41,257.45 446.80,257.45 463.20,257.45" fill="none" stroke="#e5191f" stroke-width="2.05" stroke-linejoin="round" stroke-linecap="butt"/>
<path d="M279.20,257.45C311.03,257.45 342.86,257.45 374.69,257.45C375.54,257.45 376.39,257.21 377.19,256.91C377.68,256.73 378.10,256.37 378.50,256.03C379.13,255.49 379.80,254.97 380.26,254.28C380.99,253.19 381.55,251.99 382.01,250.77C382.66,249.06 383.14,247.29 383.58,245.52C384.08,243.50 384.41,241.44 384.81,239.39C385.20,237.35 385.66,235.32 385.95,233.26C386.39,230.07 386.62,226.85 387.00,223.65C387.35,220.73 387.71,217.80 388.14,214.89C388.53,212.26 389.07,209.65 389.45,207.01C389.88,204.02 390.16,201.02 390.59,198.03C390.89,195.98 391.12,193.91 391.64,191.90C391.92,190.82 391.85,188.83 392.96,188.83C394.07,188.83 393.97,190.83 394.27,191.90C394.76,193.62 394.92,195.41 395.32,197.15C395.65,198.62 396.23,200.04 396.46,201.53C396.61,202.47 396.33,203.44 396.46,204.38C396.71,206.16 397.23,207.88 397.60,209.64C397.96,211.39 398.26,213.15 398.65,214.89C399.05,216.65 399.52,218.40 399.96,220.15C400.40,221.90 400.88,223.64 401.28,225.40C401.67,227.14 401.94,228.91 402.33,230.66C402.53,231.54 402.83,232.39 403.03,233.26C403.50,235.30 403.90,237.35 404.34,239.39C404.78,241.43 405.19,243.48 405.66,245.52C406.07,247.28 406.28,249.10 406.97,250.77C407.33,251.63 408.02,252.34 408.72,252.96C409.21,253.39 409.95,253.45 410.47,253.84C411.13,254.34 411.61,255.05 412.23,255.59C412.78,256.07 413.31,256.62 413.98,256.91C414.76,257.25 415.63,257.44 416.48,257.45C432.05,257.45 447.63,257.45 463.20,257.45" fill="none" stroke="#4caf4a" stroke-width="2.05" stroke-linejoin="round" stroke-linecap="butt"/>
<path d="M279.20,257.45C313.22,257.45 347.24,257.45 381.26,257.45C382.10,257.45 382.95,257.30 383.76,257.08C384.52,256.88 385.27,256.60 385.95,256.20C386.89,255.65 387.86,255.09 388.58,254.28C389.50,253.25 390.20,252.03 390.77,250.77C391.53,249.09 392.04,247.30 392.52,245.52C393.06,243.50 393.46,241.45 393.83,239.39C394.19,237.36 394.52,235.32 394.71,233.26C394.90,231.23 394.77,229.18 394.97,227.15C395.20,224.80 395.70,222.49 396.02,220.15C396.34,217.82 396.56,215.47 396.90,213.14C397.29,210.51 397.80,207.89 398.21,205.26C398.54,203.15 398.77,201.02 399.09,198.91C399.35,197.15 399.58,195.39 399.96,193.65C400.25,192.31 400.52,190.95 401.10,189.71C401.34,189.20 401.77,188.57 402.33,188.57C402.87,188.57 403.27,189.21 403.47,189.71C403.96,190.96 404.09,192.33 404.34,193.65C404.67,195.40 404.98,197.15 405.22,198.91C405.47,200.73 405.56,202.57 405.83,204.38C406.05,205.85 406.27,207.34 406.71,208.76C407.09,209.98 407.90,211.04 408.28,212.26C408.72,213.68 408.96,215.16 409.16,216.64C409.40,218.38 409.43,220.15 409.60,221.90C409.78,223.65 410.01,225.40 410.21,227.15C410.44,229.19 410.63,231.23 410.91,233.26C411.15,235.02 411.47,236.76 411.79,238.51C412.11,240.27 412.50,242.01 412.84,243.77C413.17,245.52 413.48,247.27 413.80,249.02C414.07,250.48 414.30,251.95 414.59,253.40C414.80,254.43 414.64,255.65 415.29,256.47C415.84,257.17 416.90,257.43 417.79,257.45C432.92,257.45 448.06,257.45 463.20,257.45" fill="none" stroke="#387eb9" stroke-width="2.05" stroke-linejoin="round" stroke-linecap="butt"/>
<path d="M279.20,257.45C314.97,257.45 350.74,257.45 386.51,257.45C387.35,257.45 388.20,257.32 389.01,257.08C389.78,256.85 390.55,256.51 391.20,256.03C392.03,255.42 392.76,254.66 393.39,253.84C394.23,252.75 394.99,251.58 395.58,250.34C396.31,248.79 396.88,247.17 397.34,245.52C397.90,243.51 398.26,241.44 398.65,239.39C399.04,237.35 399.38,235.31 399.70,233.26C400.11,230.64 400.44,228.02 400.84,225.40C401.20,223.06 401.61,220.73 401.98,218.39C402.34,216.06 402.66,213.72 403.03,211.39C403.36,209.34 403.78,207.31 404.08,205.26C404.43,202.86 404.66,200.44 404.96,198.03C405.25,195.69 405.54,193.36 405.83,191.02C406.12,188.68 406.38,186.34 406.71,184.01C406.96,182.25 407.17,180.49 407.58,178.76C407.76,177.99 408.03,177.23 408.46,176.57C408.67,176.25 409.04,175.96 409.42,175.96C409.82,175.96 410.26,176.22 410.47,176.57C410.94,177.36 411.16,178.30 411.35,179.20C411.75,181.08 412.01,182.98 412.23,184.89C412.50,187.22 412.66,189.56 412.84,191.90C413.01,194.23 413.18,196.57 413.28,198.91C413.42,202.19 413.45,205.48 413.54,208.76C413.62,211.68 413.70,214.60 413.80,217.52C413.90,220.44 414.05,223.36 414.15,226.28C414.25,229.19 414.30,232.10 414.42,235.01C414.53,237.64 414.70,240.26 414.85,242.89C414.99,245.23 415.07,247.57 415.29,249.90C415.45,251.66 415.57,253.43 415.99,255.15C416.16,255.86 416.43,256.68 417.04,257.08C417.75,257.45 418.70,257.44 419.54,257.45C434.09,257.45 448.65,257.45 463.20,257.45" fill="none" stroke="#984ea3" stroke-width="2.05" stroke-linejoin="round" stroke-linecap="butt"/>
<path d="M270.0,172.2 V258.35 H463.9" fill="none" stroke="#000000" stroke-width="0.9" stroke-linejoin="round"/>
<path d="M270.0,169.1 l2.2,5.0 h-4.4 z" fill="#000"/>
<path d="M468.6,258.45 l-5.8,-2.3 v4.6 z" fill="#000"/>
<line x1="482.4" y1="180.3" x2="487.0" y2="180.3" stroke="#000000" stroke-width="0.55"/>
<line x1="482.4" y1="257.45" x2="487.0" y2="257.45" stroke="#000000" stroke-width="0.55"/>
<line x1="499.45" y1="258.35" x2="499.45" y2="263.35" stroke="#000000" stroke-width="0.55"/>
<text x="499.45" y="275.65" transform="rotate(0.1 499.4 275.65)" font-size="10.6" fill="#181818" stroke="#181818" text-anchor="middle" textLength="26.3" lengthAdjust="spacingAndGlyphs">1,500</text>
<line x1="560.3" y1="258.35" x2="560.3" y2="263.35" stroke="#000000" stroke-width="0.55"/>
<text x="560.3" y="275.65" transform="rotate(0.1 560.3 275.65)" font-size="10.6" fill="#181818" stroke="#181818" text-anchor="middle" textLength="27.2" lengthAdjust="spacingAndGlyphs">1,000</text>
<line x1="621.7" y1="258.35" x2="621.7" y2="263.35" stroke="#000000" stroke-width="0.55"/>
<text x="621.7" y="275.65" transform="rotate(0.1 621.7 275.65)" font-size="10.6" fill="#181818" stroke="#181818" text-anchor="middle" textLength="19.0" lengthAdjust="spacingAndGlyphs">500</text>
<line x1="679.4" y1="258.35" x2="679.4" y2="263.35" stroke="#000000" stroke-width="0.55"/>
<text x="679.4" y="275.65" transform="rotate(0.1 679.4 275.65)" font-size="10.6" fill="#181818" stroke="#181818" text-anchor="middle" textLength="6.3" lengthAdjust="spacingAndGlyphs">0</text>
<path d="M496.30,257.45C519.58,257.45 542.87,257.45 566.15,257.45C566.99,257.45 567.83,257.25 568.65,257.06C570.42,256.65 572.18,256.20 573.91,255.66C575.10,255.29 576.27,254.84 577.41,254.34C578.60,253.82 579.85,253.35 580.91,252.59C581.92,251.87 582.82,250.97 583.54,249.96C584.30,248.90 584.73,247.64 585.29,246.46C585.90,245.16 586.40,243.80 587.04,242.52C587.57,241.47 588.33,240.53 588.80,239.45C589.36,238.18 589.73,236.84 590.11,235.51C590.60,233.78 591.02,232.02 591.42,230.26C591.98,227.77 592.52,225.28 593.00,222.78C593.39,220.74 593.70,218.69 594.05,216.65C594.40,214.61 594.74,212.56 595.10,210.52C595.47,208.47 595.80,206.42 596.24,204.39C596.56,202.92 596.78,201.40 597.38,200.01C597.62,199.44 598.07,198.69 598.69,198.69C599.27,198.69 599.57,199.49 599.81,200.01C600.33,201.12 600.52,202.36 600.95,203.51C601.34,204.55 601.82,205.56 602.26,206.58C602.70,207.60 603.27,208.57 603.58,209.64C604.00,211.07 604.18,212.56 604.45,214.02C604.77,215.77 605.04,217.53 605.33,219.28C605.62,221.03 605.96,222.77 606.20,224.53C606.46,226.43 606.54,228.36 606.82,230.26C607.13,232.32 607.58,234.35 607.96,236.39C608.34,238.43 608.70,240.48 609.09,242.52C609.43,244.27 609.72,246.04 610.15,247.77C610.51,249.25 610.95,250.71 611.46,252.15C611.83,253.20 612.18,254.28 612.77,255.22C613.22,255.94 613.78,256.67 614.53,257.06C615.28,257.45 616.19,257.44 617.03,257.45C638.12,257.45 659.21,257.45 680.30,257.45" fill="none" stroke="#e5191f" stroke-width="2.05" stroke-linejoin="round" stroke-linecap="butt"/>
<path d="M496.30,257.45C500.29,257.45 504.29,257.45 508.27,257.45C509.16,257.39 509.94,256.84 510.77,256.53C511.94,256.10 513.16,255.78 514.27,255.22C515.50,254.60 516.70,253.89 517.77,253.03C518.90,252.13 519.90,251.06 520.84,249.96C521.66,249.01 522.33,247.94 523.03,246.90C523.79,245.75 524.40,244.50 525.22,243.39C526.02,242.31 526.90,241.28 527.85,240.33C528.80,239.38 529.96,238.65 530.91,237.70C531.86,236.75 532.74,235.72 533.54,234.64C534.36,233.53 534.94,232.26 535.73,231.13C536.41,230.16 537.08,229.17 537.92,228.33C538.70,227.55 539.56,226.81 540.55,226.31C541.50,225.83 542.55,225.44 543.61,225.44C544.53,225.44 545.52,225.73 546.24,226.31C547.06,226.97 547.48,228.02 547.99,228.94C548.53,229.92 548.89,231.00 549.38,232.01C550.09,233.48 550.81,234.95 551.57,236.39C552.27,237.72 552.87,239.12 553.76,240.33C554.49,241.33 555.48,242.12 556.39,242.96C557.23,243.73 558.21,244.35 559.01,245.15C559.96,246.10 560.76,247.19 561.64,248.21C562.52,249.23 563.28,250.37 564.27,251.28C565.05,251.99 565.99,252.50 566.90,253.03C567.75,253.52 568.63,253.95 569.53,254.34C570.68,254.83 571.83,255.33 573.03,255.66C574.46,256.06 575.94,256.32 577.41,256.53C579.15,256.78 580.91,256.85 582.66,257.06C583.50,257.16 584.32,257.45 585.16,257.45C616.87,257.45 648.59,257.45 680.30,257.45" fill="none" stroke="#4caf4a" stroke-width="2.05" stroke-linejoin="round" stroke-linecap="butt"/>
<path d="M496.30,257.45C512.26,257.45 528.22,257.45 544.18,257.45C545.05,257.44 545.88,257.05 546.68,256.71C547.62,256.30 548.56,255.84 549.38,255.22C550.20,254.60 550.98,253.88 551.57,253.03C552.31,251.96 552.85,250.75 553.32,249.53C553.87,248.11 554.27,246.63 554.64,245.15C555.15,243.12 555.56,241.07 555.95,239.01C556.28,237.27 556.53,235.51 556.82,233.76C557.11,232.01 557.46,230.26 557.70,228.50C558.04,226.02 558.30,223.52 558.58,221.03C558.88,218.40 559.14,215.77 559.45,213.15C559.72,210.81 559.97,208.47 560.33,206.14C560.56,204.67 560.79,203.19 561.20,201.76C561.38,201.13 561.67,200.52 562.08,200.01C562.29,199.75 562.63,199.55 562.96,199.57C563.58,199.61 564.19,199.85 564.71,200.18C565.38,200.60 566.07,201.08 566.46,201.76C567.07,202.83 567.30,204.07 567.60,205.26C567.97,206.70 568.23,208.17 568.47,209.64C568.81,211.68 569.06,213.73 569.35,215.77C569.64,217.82 569.97,219.86 570.23,221.91C570.55,224.40 570.67,226.91 571.10,229.38C571.31,230.58 571.61,231.79 572.15,232.88C572.71,234.01 573.78,234.83 574.34,235.95C574.96,237.19 575.20,238.58 575.66,239.89C576.08,241.06 576.47,242.25 576.97,243.39C577.49,244.59 578.07,245.76 578.72,246.90C579.24,247.81 579.85,248.68 580.47,249.53C581.02,250.29 581.53,251.09 582.23,251.72C583.01,252.42 583.98,252.89 584.85,253.47C585.73,254.05 586.56,254.71 587.48,255.22C588.32,255.68 589.22,256.02 590.11,256.36C590.83,256.63 591.55,256.89 592.30,257.06C593.12,257.25 593.96,257.45 594.80,257.45C623.30,257.45 651.80,257.45 680.30,257.45" fill="none" stroke="#387eb9" stroke-width="2.05" stroke-linejoin="round" stroke-linecap="butt"/>
<path d="M496.30,257.45C517.54,257.45 538.78,257.45 560.02,257.45C560.89,257.44 561.66,256.85 562.52,256.71C563.97,256.48 565.45,256.55 566.90,256.36C568.08,256.20 569.27,256.03 570.40,255.66C571.33,255.35 572.27,254.96 573.03,254.34C573.91,253.62 574.43,252.54 575.22,251.72C575.75,251.17 576.28,250.55 576.97,250.23C577.64,249.92 578.47,250.16 579.16,249.88C579.82,249.61 580.52,249.25 580.91,248.65C581.59,247.60 581.87,246.34 582.23,245.15C582.75,243.42 583.10,241.64 583.54,239.89C583.98,238.14 584.44,236.40 584.85,234.64C585.26,232.89 585.60,231.13 585.99,229.38C586.48,227.18 587.00,224.98 587.48,222.78C587.79,221.32 587.92,219.82 588.36,218.40C588.65,217.47 589.07,216.54 589.67,215.77C590.12,215.19 590.90,214.97 591.42,214.46C591.94,213.94 592.41,213.36 592.74,212.71C593.15,211.88 593.24,210.93 593.61,210.08C593.92,209.37 594.18,208.58 594.75,208.07C595.13,207.73 595.73,207.66 596.24,207.72C596.57,207.76 596.81,208.07 597.01,208.33C597.52,209.01 598.05,209.71 598.32,210.52C598.79,211.93 598.91,213.44 599.20,214.90C599.49,216.36 599.78,217.82 600.07,219.28C600.36,220.74 600.63,222.20 600.95,223.66C601.36,225.57 601.80,227.48 602.26,229.38C602.68,231.14 603.14,232.89 603.58,234.64C604.02,236.39 604.42,238.15 604.89,239.89C605.29,241.36 605.76,242.81 606.20,244.27C606.64,245.73 607.04,247.20 607.52,248.65C607.91,249.83 608.34,251.01 608.83,252.15C609.22,253.05 609.59,253.98 610.15,254.78C610.62,255.46 611.22,256.07 611.90,256.53C612.41,256.88 613.05,257.02 613.65,257.15C614.47,257.33 615.31,257.45 616.15,257.45C637.53,257.45 658.92,257.45 680.30,257.45" fill="none" stroke="#984ea3" stroke-width="2.05" stroke-linejoin="round" stroke-linecap="butt"/>
<path d="M487.0,172.2 V258.35 H681.0" fill="none" stroke="#000000" stroke-width="0.9" stroke-linejoin="round"/>
<path d="M487.0,169.1 l2.2,5.0 h-4.4 z" fill="#000"/>
<path d="M686.1,258.45 l-5.8,-2.3 v4.6 z" fill="#000"/>
<text x="36.0" y="35.6" transform="rotate(0.1 22.4 35.6)" font-size="10.6" fill="#181818" stroke="#181818" text-anchor="end" textLength="27.2" lengthAdjust="spacingAndGlyphs">0.010</text>
<text x="35.9" y="116.8" transform="rotate(0.1 32.8 116.8)" font-size="10.6" fill="#181818" stroke="#181818" text-anchor="end" textLength="6.3" lengthAdjust="spacingAndGlyphs">0</text>
<text x="37.9" y="183.2" transform="rotate(0.1 24.3 183.2)" font-size="10.6" fill="#181818" stroke="#181818" text-anchor="end" textLength="27.2" lengthAdjust="spacingAndGlyphs">0.010</text>
<text x="38.0" y="260.5" transform="rotate(0.1 34.9 260.5)" font-size="10.6" fill="#181818" stroke="#181818" text-anchor="end" textLength="6.3" lengthAdjust="spacingAndGlyphs">0</text>
<text transform="translate(9.1,73.6) rotate(-90)" font-size="11.8" fill="#181818" stroke="#181818" text-anchor="middle" textLength="58.4" lengthAdjust="spacingAndGlyphs">Probability</text>
<text transform="translate(23.9,73.6) rotate(-90)" font-size="11.8" fill="#181818" stroke="#181818" text-anchor="middle" textLength="39.6" lengthAdjust="spacingAndGlyphs">density</text>
<text transform="translate(36.7,74.0) rotate(-90)" font-size="11.8" fill="#181818" stroke="#181818" text-anchor="middle" textLength="31.4" lengthAdjust="spacingAndGlyphs">(Ma<tspan font-size="7.6" dy="-4.2">−1</tspan><tspan dy="4.2">)</tspan></text>
<text transform="translate(9.1,217.5) rotate(-90)" font-size="11.8" fill="#181818" stroke="#181818" text-anchor="middle" textLength="58.4" lengthAdjust="spacingAndGlyphs">Probability</text>
<text transform="translate(23.9,217.5) rotate(-90)" font-size="11.8" fill="#181818" stroke="#181818" text-anchor="middle" textLength="39.6" lengthAdjust="spacingAndGlyphs">density</text>
<text transform="translate(36.7,217.9) rotate(-90)" font-size="11.8" fill="#181818" stroke="#181818" text-anchor="middle" textLength="31.4" lengthAdjust="spacingAndGlyphs">(Ma<tspan font-size="7.6" dy="-4.2">−1</tspan><tspan dy="4.2">)</tspan></text>
<text x="235.6" y="9.0" transform="rotate(0.1 361.1 9.0)" font-size="10.7" fill="#181818" stroke="#181818" text-anchor="start" textLength="251.1" lengthAdjust="spacingAndGlyphs">Density plots with sampled chronogram ages</text>
<text x="129.2" y="30.6" transform="rotate(0.1 144.4 30.6)" font-size="11.8" fill="#6a4636" stroke="#6a4636" text-anchor="start" textLength="30.5" lengthAdjust="spacingAndGlyphs">Fungi</text>
<text x="323.5" y="29.2" transform="rotate(0.1 366.6 29.2)" font-size="11.8" fill="#6a4636" stroke="#6a4636" text-anchor="start" textLength="86.2" lengthAdjust="spacingAndGlyphs">Pezizomycotina</text>
<text x="555.8" y="31.4" transform="rotate(0.1 591.8 31.4)" font-size="11.8" fill="#1f641f" stroke="#1f641f" text-anchor="start" textLength="72.1" lengthAdjust="spacingAndGlyphs">Streptophyta</text>
<text x="75.7" y="171.5" transform="rotate(0.1 117.6 171.5)" font-size="11.8" fill="#6a4636" stroke="#6a4636" text-anchor="start" textLength="83.8" lengthAdjust="spacingAndGlyphs">Mucoromycota</text>
<text x="162.7" y="171.5" transform="rotate(0.1 166.1 171.5)" font-size="11.8" fill="#6a4636" stroke="#6a4636" text-anchor="start" textLength="6.8" lengthAdjust="spacingAndGlyphs">+</text>
<text x="172.9" y="171.5" transform="rotate(0.1 192.9 171.5)" font-size="11.8" fill="#6a4636" stroke="#6a4636" text-anchor="start" textLength="40.0" lengthAdjust="spacingAndGlyphs">Dikarya</text>
<text x="322.1" y="171.6" transform="rotate(0.1 369.1 171.6)" font-size="11.8" fill="#6a4636" stroke="#6a4636" text-anchor="start" textLength="94.0" lengthAdjust="spacingAndGlyphs">Agaricomycotina</text>
<text x="501.2" y="171.6" transform="rotate(0.1 542.6 171.6)" font-size="11.8" fill="#1f641f" stroke="#1f641f" text-anchor="start" textLength="82.8" lengthAdjust="spacingAndGlyphs" font-style="italic">Klebsormidium</text>
<text x="587.6" y="171.6" transform="rotate(0.1 590.9 171.6)" font-size="11.8" fill="#1f641f" stroke="#1f641f" text-anchor="start" textLength="6.6" lengthAdjust="spacingAndGlyphs">+</text>
<text x="597.7" y="171.6" transform="rotate(0.1 634.2 171.6)" font-size="11.8" fill="#1f641f" stroke="#1f641f" text-anchor="start" textLength="73.0" lengthAdjust="spacingAndGlyphs">Embryophyta</text>
<text x="120.0" y="148.75" transform="rotate(0.1 144.3 148.75)" font-size="11.6" fill="#181818" stroke="#181818" text-anchor="start" textLength="48.6" lengthAdjust="spacingAndGlyphs">Age (Ma)</text>
<text x="120.0" y="292.0" transform="rotate(0.1 144.3 292.0)" font-size="11.6" fill="#181818" stroke="#181818" text-anchor="start" textLength="48.6" lengthAdjust="spacingAndGlyphs">Age (Ma)</text>
<text x="291.6" y="308.9" transform="rotate(0.1 377.1 308.9)" font-size="11.2" fill="#181818" stroke="#181818" text-anchor="start" textLength="171.0" lengthAdjust="spacingAndGlyphs">Four sets of timing information</text>
<line x1="109.3" y1="326.7" x2="119.6" y2="326.7" stroke="#e5191f" stroke-width="1.3"/>
<text x="126.4" y="331.5" transform="rotate(0.1 236.8 331.5)" font-size="11.8" fill="#181818" stroke="#181818" text-anchor="start" textLength="220.8" lengthAdjust="spacingAndGlyphs">Default (24 calibrations + 17 constraints)</text>
<line x1="109.3" y1="349.3" x2="119.6" y2="349.3" stroke="#4caf4a" stroke-width="1.3"/>
<text x="124.6" y="353.6" transform="rotate(0.1 234.7 353.6)" font-size="11.8" fill="#181818" stroke="#181818" text-anchor="start" textLength="220.2" lengthAdjust="spacingAndGlyphs">PSE-constraint A (Default + 1 constraint)</text>
<line x1="109.3" y1="371.6" x2="119.6" y2="371.6" stroke="#387eb9" stroke-width="1.3"/>
<text x="124.6" y="376.1" transform="rotate(0.1 281.8 376.1)" font-size="11.8" fill="#181818" stroke="#181818" text-anchor="start" textLength="314.4" lengthAdjust="spacingAndGlyphs">PSE-constraint A + calib (PSE-constraint A + 1 calibration)</text>
<line x1="109.3" y1="394.0" x2="119.6" y2="394.0" stroke="#984ea3" stroke-width="1.3"/>
<text x="124.6" y="398.3" transform="rotate(0.1 251.4 398.3)" font-size="11.8" fill="#181818" stroke="#181818" text-anchor="start" textLength="253.6" lengthAdjust="spacingAndGlyphs">PSE-constraints B + C (Default + 2 constraints)</text>
<line x1="447.5" y1="343" x2="447.5" y2="402" stroke="#222222" stroke-width="1"/>
<text x="454" y="360.8" transform="rotate(0.1 550.1 360.8)" font-size="11.8" fill="#181818" stroke="#181818" text-anchor="start" textLength="192.3" lengthAdjust="spacingAndGlyphs">Additional timing information from</text>
<text x="454" y="374.7" transform="rotate(0.1 543.4 374.7)" font-size="11.8" fill="#181818" stroke="#181818" text-anchor="start" textLength="178.8" lengthAdjust="spacingAndGlyphs">plausible evolutionary scenarios</text>
<text x="454" y="388.9" transform="rotate(0.1 544.0 388.9)" font-size="11.8" fill="#181818" stroke="#181818" text-anchor="start" textLength="179.9" lengthAdjust="spacingAndGlyphs">related to PSE evolution in Fungi</text>
</svg>
</body>
</html>
